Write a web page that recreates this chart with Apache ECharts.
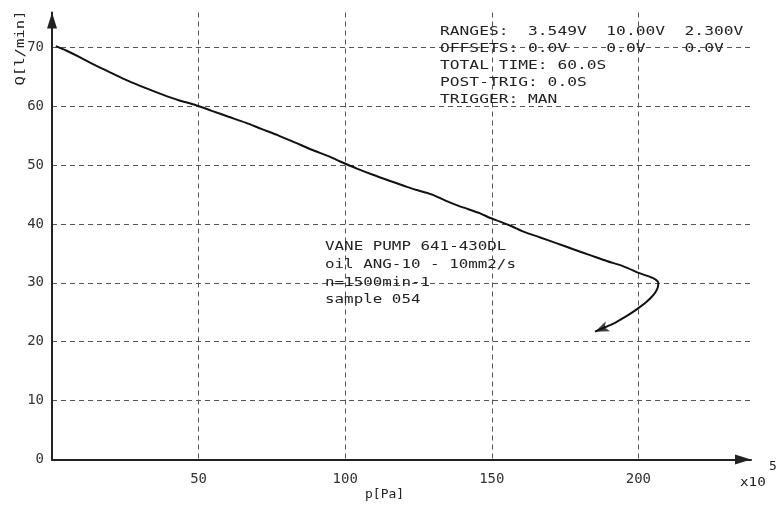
<!DOCTYPE html>
<html>
<head>
<meta charset="utf-8">
<script src="https://cdn.jsdelivr.net/npm/echarts@6/dist/echarts.min.js"></script>
<style>
html,body{margin:0;padding:0;background:#fff;}
#chart{width:776px;height:506px;}
</style>
</head>
<body>
<div id="chart"></div>
<script>
// Pressure p [Pa] (x10^5) and flow Q [l/min]
const pressure = [1.3, 5, 9.1, 14.5, 20.4, 26, 31.8, 37.5, 43.2, 48.9, 54.5, 60.2, 66, 71.6, 77.3, 83, 88.6, 94.3, 98.3, 104, 109.7, 115.3, 121, 125.5, 130.1, 134, 138, 142, 146, 149.5, 152.8, 156.8, 160.8, 166.5, 172.2, 177.8, 183.5, 189.2, 194.9, 200.6, 204, 206, 206.8, 206.6, 205.8, 204.5, 202.8, 200.8, 198.3, 195.5, 192.3, 188.8, 185.2];
const flow = [70.2, 69.4, 68.4, 67.0, 65.6, 64.3, 63.1, 62.0, 61.0, 60.2, 59.2, 58.2, 57.2, 56.1, 55.0, 53.8, 52.6, 51.5, 50.6, 49.4, 48.3, 47.3, 46.3, 45.6, 44.9, 44.0, 43.2, 42.5, 41.8, 41.0, 40.4, 39.6, 38.7, 37.7, 36.7, 35.7, 34.7, 33.7, 32.8, 31.6, 31.0, 30.5, 30.0, 29.2, 28.4, 27.6, 26.8, 26.0, 25.1, 24.2, 23.3, 22.5, 21.7];

const xTickLabels = ['50', '100', '150', '200'];
const yTickLabels = ['0', '10', '20', '30', '40', '50', '60', '70'];

const infoLines = [
  'RANGES:  3.549V  10.00V  2.300V',
  'OFFSETS: 0.0V    0.0V    0.0V',
  'TOTAL TIME: 60.0S',
  'POST-TRIG: 0.0S',
  'TRIGGER: MAN'
];
const pumpLines = [
  'VANE PUMP 641-430DL',
  'oil ANG-10 - 10mm2/s',
  'n=1500min-1',
  'sample 054'
];
const xName = 'p[Pa]';
const yName = 'Q[l/min]';
const xScale = 'x10';
const xScaleExp = '5';

const chart = echarts.init(document.getElementById('chart'), null, {renderer: 'canvas'});
const mono = '"DejaVu Sans Mono", monospace';
const points = pressure.map((p, i) => [p, flow[i]]);
const last = points[points.length - 1];

const graphics = [];
infoLines.forEach((t, i) => {
  graphics.push({type: 'text', x: 440, y: [32, 49, 66, 83, 100][i], scaleX: 1.25, z: 10,
    style: {text: t, font: '13px ' + mono, fill: '#222', verticalAlign: 'middle'}});
});
pumpLines.forEach((t, i) => {
  graphics.push({type: 'text', x: 325, y: [247, 265, 283, 300][i], scaleX: 1.22, z: 10,
    style: {text: t, font: '13px ' + mono, fill: '#222', verticalAlign: 'middle'}});
});
graphics.push({type: 'text', x: 21, y: 48, rotation: Math.PI / 2, scaleX: 1.2,
  style: {text: yName, font: '13px ' + mono, fill: '#222', align: 'center', verticalAlign: 'middle'}});
graphics.push({type: 'text', x: 365, y: 495,
  style: {text: xName, font: '13px ' + mono, fill: '#222', verticalAlign: 'middle'}});
graphics.push({type: 'text', x: 740, y: 483, scaleX: 1.1,
  style: {text: xScale, font: '13px ' + mono, fill: '#222', verticalAlign: 'middle'}});
graphics.push({type: 'text', x: 769, y: 467,
  style: {text: xScaleExp, font: '13px ' + mono, fill: '#222', verticalAlign: 'middle'}});

chart.setOption({
  animation: false,
  backgroundColor: '#fff',
  grid: {left: 52, right: 25, top: 12.5, bottom: 46.5, containLabel: false},
  xAxis: {
    type: 'value', min: 0, max: 238.4, interval: 50,
    axisLine: {show: true, symbol: ['none', 'triangle'], symbolSize: [10, 16], symbolOffset: [0, -8],
      lineStyle: {color: '#222', width: 2}},
    axisTick: {show: false},
    axisLabel: {
      color: '#333', fontFamily: mono, fontSize: 14, margin: 13,
      formatter: v => (xTickLabels.indexOf(String(v)) >= 0 ? String(v) : '')
    },
    splitLine: {show: true, showMinLine: false, showMaxLine: false,
      lineStyle: {color: '#555', type: [5, 4], width: 1}}
  },
  yAxis: {
    type: 'value', min: 0, max: 75.9, interval: 10,
    axisLine: {show: true, symbol: ['none', 'triangle'], symbolSize: [10, 16], symbolOffset: [0, -8],
      lineStyle: {color: '#222', width: 2}},
    axisTick: {show: false},
    axisLabel: {
      color: '#333', fontFamily: mono, fontSize: 14, margin: 8,
      formatter: v => (yTickLabels.indexOf(String(v)) >= 0 ? String(v) : '')
    },
    splitLine: {show: true, showMinLine: false, showMaxLine: false,
      lineStyle: {color: '#555', type: [5, 4], width: 1}}
  },
  series: [
    {
      type: 'line', data: points, showSymbol: false, smooth: 0.3,
      lineStyle: {color: '#111', width: 2}, z: 5, silent: true
    },
    {
      type: 'scatter', data: [last], symbol: 'arrow', symbolSize: [8, 14], symbolRotate: 113,
      itemStyle: {color: '#111'}, z: 6, silent: true
    }
  ],
  graphic: graphics
});
</script>
</body>
</html>
